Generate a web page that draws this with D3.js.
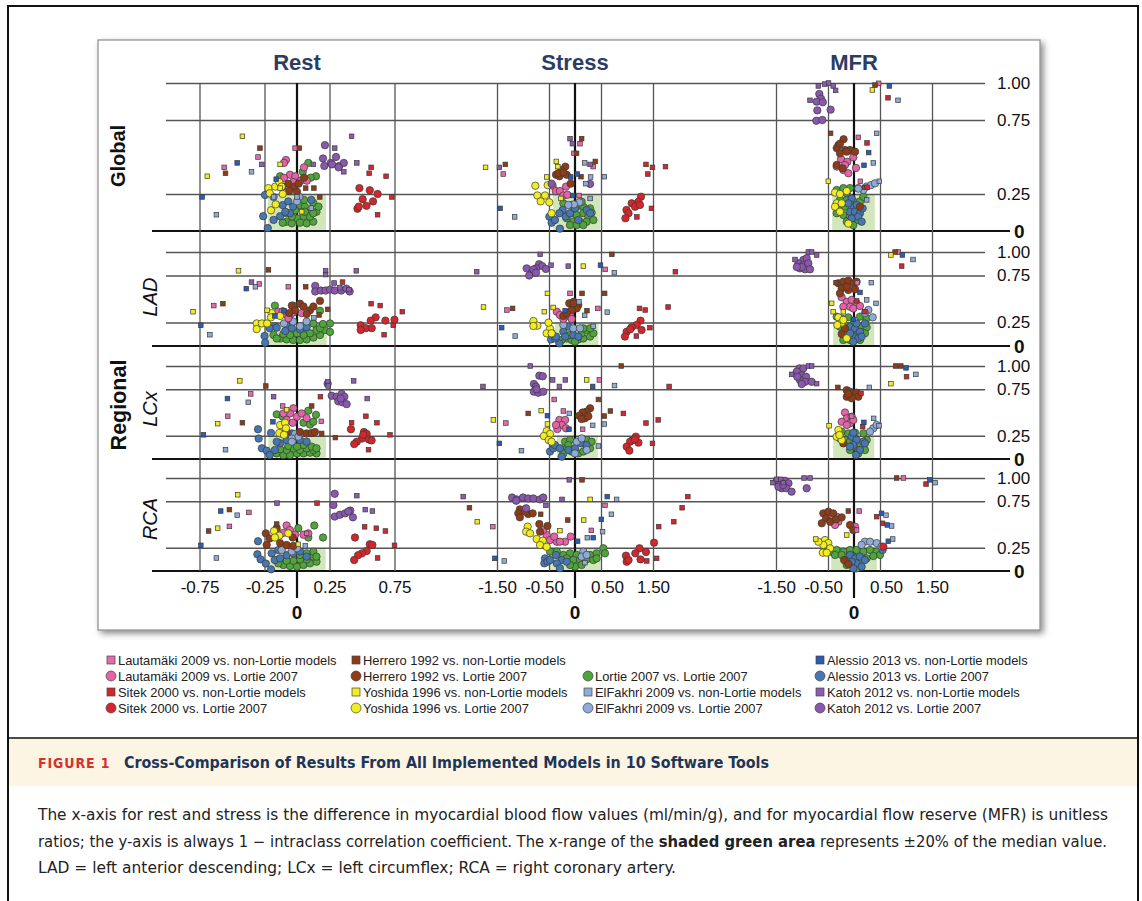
<!DOCTYPE html>
<html>
<head>
<meta charset="utf-8">
<script src="https://cdn.jsdelivr.net/npm/d3@7"></script>
<style>
  body { margin: 0; background: #fff; }
  svg { display: block; }
</style>
</head>
<body>
<div id="chart"></div>
<script>
// values: [x difference, 1 - ICC] per series code
// codes: L=Lautamaki H=Herrero O=Lortie A=Alessio S=Sitek Y=Yoshida E=ElFakhri K=Katoh ; s=square (vs non-Lortie), c=circle (vs Lortie 2007)

const restGlobal = [
  ["Ys", [[-0.42,0.64],[-0.69,0.37],[-0.13,0.45],[-0.13,0.29],[0.036,0.13]]],
  ["Hs", [[-0.285,0.56],[-0.55,0.39],[0.018,0.56],[0.067,0.29],[0.13,0.29],[0.175,0.23]]],
  ["Ls", [[-0.30,0.50],[-0.56,0.43],[-0.015,0.56]]],
  ["As", [[-0.46,0.46],[-0.73,0.23],[-0.16,0.35]]],
  ["Es", [[-0.35,0.40],[-0.62,0.11],[-0.18,0.23],[0,0.23],[0.11,0.155]]],
  ["Ks", [[-0.27,0.45],[0.29,0.56],[0.42,0.64],[0.125,0.45],[0.36,0.40],[0.46,0.46]]],
  ["Ss", [[0.57,0.43],[0.555,0.39],[0.685,0.37],[0.73,0.23],[0.62,0.11]]],
  ["Kc", [[0.215,0.58],[0.2,0.49],[0.30,0.50],[0.21,0.44],[0.26,0.46],[0.325,0.44],[0.36,0.46],[0.27,0.45],[0.32,0.43]]],
  ["Sc", [[0.48,0.29],[0.56,0.275],[0.62,0.25],[0.505,0.215],[0.585,0.20],[0.535,0.17],[0.465,0.15],[0.475,0.165]]],
  ["Lc", [[-0.085,0.48],[-0.1,0.46],[0.054,0.43],[-0.054,0.38],[-0.1,0.36],[-0.013,0.37],[-0.028,0.33],[0.028,0.34],[0.075,0.34]]],
  ["Hc", [[-0.067,0.32],[-0.02,0.30],[0.013,0.32],[-0.06,0.27],[-0.11,0.30],[0,0.265],[0.054,0.36]]],
  ["Yc", [[-0.22,0.29],[-0.21,0.255],[-0.167,0.30],[-0.136,0.33],[-0.118,0.30],[-0.2,0.14],[-0.164,0.18],[-0.11,0.25]]],
  ["Ac", [[-0.246,0.243],[-0.26,0.10],[-0.225,0.02],[-0.18,0.075],[-0.11,0.175],[-0.067,0.2],[-0.13,0.1],[-0.03,0.165],[-0.054,0.12],[0.11,0.21],[-0.09,0.13]]],
  ["Ec", [[0.018,0.23],[-0.18,0.23],[0,0.2]]],
  ["Oc", [[0.023,0.175],[0.06,0.165],[0.125,0.19],[0.15,0.13],[0.087,0.12],[0.05,0.10],[0,0.085],[-0.08,0.063],[-0.04,0.052],[0.023,0.056],[0.075,0.052],[0.125,0.063],[-0.11,0.056],[0.1,0.097],[-0.04,0.097],[0.165,0.165],[0.054,0.21],[-0.028,0.30],[-0.13,0.37],[0.087,0.46],[0.146,0.37],[0.105,0.36],[0.044,0.40],[0.125,0.12],[-0.08,0.12],[0.06,0.13],[-0.015,0.14]]]
];

const restLAD = [
  ["Ys", [[-0.45,0.80],[-0.80,0.365],[-0.23,0.38]]],
  ["Hs", [[-0.22,0.81],[0.067,0.63],[-0.57,0.45],[0.236,0.39],[0.17,0.33]]],
  ["Ks", [[0.22,0.80],[0.22,0.76],[0.456,0.80],[-0.35,0.68],[0.285,0.67],[0.33,0.62],[0.40,0.60]]],
  ["Ls", [[-0.29,0.66],[-0.067,0.63],[-0.64,0.43]]],
  ["As", [[-0.39,0.61],[-0.74,0.22],[-0.10,0.375],[-0.17,0.32]]],
  ["Es", [[-0.32,0.63],[-0.67,0.12],[0.13,0.30]]],
  ["Ss", [[0.35,0.68],[0.57,0.45],[0.64,0.43],[0.81,0.365],[0.74,0.22],[0.67,0.12]]],
  ["Kc", [[0.14,0.64],[0.14,0.58],[0.185,0.59],[0.22,0.59],[0.255,0.60],[0.29,0.59],[0.34,0.59],[0.38,0.61],[0.405,0.58]]],
  ["Sc", [[0.605,0.305],[0.567,0.27],[0.68,0.27],[0.75,0.28],[0.49,0.22],[0.53,0.19],[0.575,0.19],[0.49,0.17]]],
  ["Hc", [[-0.04,0.43],[0.023,0.45],[0.05,0.42],[-0.015,0.38],[0.10,0.38],[0.126,0.42],[0.177,0.48],[-0.06,0.35],[0.075,0.34]]],
  ["Lc", [[-0.145,0.365],[-0.09,0.34],[-0.054,0.33],[-0.03,0.355],[0.036,0.35],[-0.067,0.295],[-0.11,0.37]]],
  ["Yc", [[-0.31,0.24],[-0.27,0.24],[-0.23,0.24],[-0.31,0.18],[-0.195,0.35],[-0.13,0.32],[-0.2,0.305]]],
  ["Ac", [[-0.25,0.106],[-0.245,0.035],[-0.17,0.21],[-0.21,0.19],[-0.156,0.195],[-0.08,0.22],[-0.04,0.19],[0.023,0.177],[0.074,0.2],[-0.09,0.16]]],
  ["Ec", [[-0.1,0.24],[-0.03,0.26],[0.074,0.26],[0.023,0.21]]],
  ["Oc", [[-0.18,0.117],[-0.13,0.08],[-0.08,0.07],[-0.03,0.064],[0.023,0.064],[0.074,0.07],[0.126,0.09],[0.177,0.117],[0.215,0.17],[0.254,0.24],[0.254,0.15],[0.15,0.17],[0.10,0.135],[0.05,0.117],[0,0.135],[-0.054,0.117],[-0.105,0.128],[-0.156,0.08],[0.177,0.19],[0.05,0.19],[0.126,0.24],[0.2,0.234],[-0.17,0.43],[0.177,0.375],[-0.03,0.43]]]
];

const restLCx = [
  ["Ys", [[-0.44,0.84],[-0.08,0.53],[-0.61,0.38]]],
  ["Hs", [[-0.24,0.785],[-0.42,0.39],[0.295,0.23],[0.113,0.57],[0.19,0.275]]],
  ["Ks", [[0.236,0.83],[0.24,0.785],[0.436,0.84],[-0.18,0.67],[0.54,0.65]]],
  ["Ss", [[0.18,0.67],[0.53,0.46],[0.42,0.39],[0.615,0.39],[0.715,0.26],[0.55,0.10]]],
  ["Ls", [[-0.356,0.70],[-0.533,0.46],[0.187,0.405],[-0.11,0.57]]],
  ["As", [[-0.535,0.65],[-0.72,0.26],[-0.185,0.40]]],
  ["Es", [[-0.375,0.61],[-0.55,0.10]]],
  ["Kc", [[0.267,0.68],[0.236,0.81],[0.305,0.67],[0.343,0.70],[0.364,0.67],[0.318,0.62],[0.349,0.61],[0.382,0.59],[0.336,0.65]]],
  ["Sc", [[0.415,0.32],[0.515,0.29],[0.536,0.27],[0.5,0.22],[0.46,0.186],[0.44,0.16],[0.553,0.21],[0.574,0.20],[0.51,0.26]]],
  ["Lc", [[-0.028,0.545],[-0.054,0.49],[0,0.455],[0.036,0.49],[-0.105,0.49],[-0.08,0.42],[-0.033,0.39],[0.074,0.44]]],
  ["Hc", [[0.023,0.29],[0.074,0.275],[0.113,0.28],[0.138,0.29],[-0.08,0.29],[-0.13,0.275]]],
  ["Yc", [[-0.13,0.365],[-0.092,0.39],[-0.085,0.33],[-0.136,0.28],[-0.1,0.26]]],
  ["Ac", [[-0.30,0.32],[-0.295,0.22],[-0.27,0.115],[-0.233,0.09],[-0.21,0.043],[-0.2,0.28],[-0.17,0.097],[-0.13,0.17],[-0.08,0.204],[-0.04,0.276],[0.023,0.204],[0.074,0.186],[-0.156,0.186]]],
  ["Ec", [[-0.015,0.27],[0.01,0.24],[-0.04,0.22],[-0.04,0.186]]],
  ["Oc", [[-0.156,0.48],[-0.11,0.455],[0.087,0.52],[0.146,0.475],[0.05,0.39],[0.1,0.37],[0.126,0.40],[-0.156,0.06],[-0.105,0.043],[-0.054,0.043],[0,0.06],[0.05,0.06],[0.1,0.068],[0.15,0.06],[0.023,0.097],[-0.028,0.115],[0.074,0.115],[-0.08,0.097],[0.126,0.097],[0.05,0.15],[0,0.133],[-0.067,0.14],[-0.13,0.104],[0.113,0.133],[0.15,0.115]]]
];

const restRCA = [
  ["Ys", [[-0.456,0.82],[-0.61,0.46],[0.01,0.287]]],
  ["Ks", [[-0.154,0.73],[0.46,0.81],[0.525,0.66],[0.58,0.645]]],
  ["Ss", [[0.154,0.73],[0.52,0.475],[0.61,0.46],[0.68,0.43],[0.75,0.276],[0.62,0.14]]],
  ["As", [[-0.587,0.645],[-0.74,0.276]]],
  ["Hs", [[-0.52,0.66],[-0.68,0.43],[-0.156,0.505]]],
  ["Es", [[-0.46,0.60],[-0.62,0.14],[0.064,0.27]]],
  ["Ls", [[-0.37,0.63],[-0.52,0.48],[0.074,0.405]]],
  ["Kc", [[0.29,0.83],[0.28,0.71],[0.29,0.585],[0.33,0.605],[0.37,0.62],[0.41,0.65],[0.43,0.577],[0.395,0.64]]],
  ["Sc", [[0.446,0.36],[0.56,0.287],[0.536,0.215],[0.5,0.19],[0.47,0.17],[0.44,0.118],[0.58,0.28]]],
  ["Lc", [[-0.08,0.49],[-0.054,0.44],[-0.015,0.39],[-0.105,0.41],[0.05,0.39],[0.087,0.405]]],
  ["Yc", [[-0.177,0.43],[-0.136,0.38],[-0.067,0.405],[-0.17,0.36]]],
  ["Hc", [[-0.24,0.405],[-0.21,0.35],[-0.144,0.38],[-0.13,0.30],[-0.08,0.28],[-0.028,0.27],[-0.233,0.28],[-0.033,0.36],[-0.156,0.46]]],
  ["Ac", [[-0.3,0.32],[-0.305,0.18],[-0.28,0.125],[-0.24,0.08],[-0.2,0.018],[-0.195,0.19],[-0.144,0.225],[-0.08,0.17],[-0.028,0.19],[0.023,0.21],[-0.17,0.118],[-0.13,0.136],[0.074,0.154]]],
  ["Ec", [[-0.118,0.225],[-0.04,0.21],[0,0.245]]],
  ["Oc", [[0.133,0.49],[0.01,0.46],[0.2,0.36],[0.087,0.36],[-0.105,0.065],[-0.054,0.054],[0,0.047],[0.05,0.065],[0.1,0.082],[0.15,0.1],[0.126,0.154],[0.074,0.125],[0.023,0.125],[-0.028,0.11],[-0.08,0.11],[0.126,0.208],[0.15,0.154],[-0.144,0.082],[0.074,0.19],[0.023,0.172]]]
];

const stressGlobal = [
  ["Ks", [[-0.096,0.624],[-0.05,0.59],[-1.455,0.43],[0.29,0.45]]],
  ["Hs", [[0.128,0.624],[0.03,0.525],[-1.34,0.45],[0.39,0.47],[0.115,0.367]]],
  ["Ls", [[0.096,0.59],[-0.02,0.525],[-1.38,0.385],[0.35,0.435],[0.077,0.24]]],
  ["Ys", [[-1.72,0.43],[-0.36,0.47],[-0.33,0.435],[-0.545,0.365],[-0.27,0.22]]],
  ["As", [[-1.44,0.153],[-0.083,0.365],[0.045,0.385],[-0.045,0.24]]],
  ["Es", [[-1.16,0.095],[0.186,0.46],[0.30,0.365],[0.564,0.367],[0.21,0.32],[0.29,0.22]]],
  ["Ss", [[1.365,0.45],[1.49,0.43],[1.74,0.435],[1.40,0.385],[1.47,0.153],[1.19,0.095]]],
  ["Hc", [[-0.186,0.435],[-0.263,0.41],[-0.365,0.38],[-0.3,0.37],[-0.16,0.38],[-0.083,0.32],[-0.32,0.39],[-0.224,0.395]]],
  ["Kc", [[0.29,0.318],[-0.45,0.32]]],
  ["Lc", [[-0.43,0.306],[-0.37,0.27],[-0.29,0.27],[-0.173,0.30],[-0.224,0.24],[-0.147,0.245]]],
  ["Yc", [[-0.763,0.306],[-0.526,0.31],[-0.724,0.24],[-0.577,0.24],[-0.66,0.2],[-0.494,0.194],[-0.45,0.12]]],
  ["Sc", [[1.27,0.232],[1.22,0.198],[1.09,0.187],[1.155,0.164],[0.99,0.142],[1.03,0.12],[0.97,0.086],[1.25,0.176]]],
  ["Ac", [[-0.494,0.097],[-0.45,0.056],[-0.29,0.016],[-0.385,0.074],[-0.237,0.142],[-0.18,0.097],[-0.096,0.12],[-0.3,0.12],[0.064,0.074],[0.224,0.142],[0.29,0.12],[0,0.153]]],
  ["Ec", [[0.083,0.194],[-0.02,0.18],[-0.128,0.176]]],
  ["Oc", [[-0.064,0.176],[0.032,0.164],[0.16,0.164],[0.29,0.153],[-0.064,0.12],[0.032,0.108],[0.16,0.12],[0.256,0.097],[-0.16,0.086],[-0.032,0.063],[0.096,0.063],[0.224,0.063],[0.353,0.074],[-0.096,0.04],[0.032,0.04],[0.16,0.04],[0.32,0.124],[0.128,0.198],[-0.224,0.187]]]
];

const stressLAD = [
  ["Ks", [[-0.67,0.975],[-1.89,0.79],[-0.46,0.86],[-0.13,0.85]]],
  ["Hs", [[0.71,0.975],[0.135,0.56],[0.57,0.56],[-1.2,0.40],[0.23,0.376]]],
  ["Ss", [[1.93,0.79],[1.24,0.40],[1.35,0.383],[1.79,0.415],[1.44,0.195],[1.18,0.106]]],
  ["Ys", [[0.16,0.85],[-0.53,0.56],[-1.76,0.415],[-0.59,0.365],[-0.42,0.41]]],
  ["As", [[0.49,0.86],[-1.41,0.195],[-0.19,0.376]]],
  ["Ls", [[0.58,0.815],[-0.096,0.56],[-1.31,0.383],[0.44,0.40]]],
  ["Es", [[0.756,0.78],[-1.15,0.106],[0.62,0.36],[0.186,0.326],[0.077,0.47],[0.35,0.21]]],
  ["Kc", [[-0.93,0.826],[-0.83,0.78],[-0.69,0.87],[-0.63,0.85],[-0.56,0.82],[-0.75,0.826],[-0.88,0.75],[-0.8,0.815],[-0.75,0.78]]],
  ["Hc", [[-0.11,0.454],[-0.026,0.47],[0.064,0.436],[0.032,0.40],[-0.064,0.383],[-0.224,0.32],[-0.16,0.35],[-0.032,0.454]]],
  ["Lc", [[-0.35,0.365],[-0.29,0.33],[-0.19,0.31],[-0.096,0.33],[-0.064,0.287],[-0.224,0.287]]],
  ["Yc", [[-0.8,0.266],[-0.724,0.216],[-0.8,0.213],[-0.48,0.184],[-0.51,0.248],[-0.545,0.135],[-0.45,0.135]]],
  ["Sc", [[1.26,0.27],[1.186,0.223],[1.09,0.2],[1.28,0.17],[0.994,0.152],[0.96,0.1],[1.06,0.177]]],
  ["Ac", [[-0.45,0.135],[-0.46,0.07],[-0.3,0.028],[-0.38,0.08],[-0.365,0.1],[-0.224,0.152],[-0.128,0.206],[-0.032,0.117],[0.064,0.1],[-0.19,0.1]]],
  ["Ec", [[-0.032,0.188],[0.096,0.188],[-0.224,0.223]]],
  ["Oc", [[-0.16,0.08],[-0.064,0.064],[0.064,0.07],[0.16,0.08],[0.29,0.1],[0.353,0.135],[0.128,0.135],[0.224,0.17],[0,0.046],[-0.096,0.117],[0.29,0.188],[0.16,0.188],[-0.256,0.064]]]
];

const stressLCx = [
  ["Ks", [[-0.86,1.0],[-1.77,0.78],[-0.43,0.85],[-0.186,0.85],[-0.3,0.78]]],
  ["Hs", [[0.89,1.0],[0.45,0.64],[-0.9,0.49],[0.68,0.516],[0.564,0.462]]],
  ["Ss", [[1.81,0.78],[0.93,0.49],[1.365,0.387],[1.6,0.42],[1.49,0.168]]],
  ["Ys", [[0.224,0.85],[-0.65,0.52],[-1.57,0.42],[-0.53,0.376]]],
  ["Ls", [[0.468,0.85],[-0.40,0.64],[-1.33,0.387],[-0.224,0.516],[0.147,0.32]]],
  ["As", [[0.34,0.78],[-0.53,0.466],[-1.455,0.168],[-0.115,0.32]]],
  ["Es", [[0.76,0.79],[-1.03,0.09],[0.45,0.14],[0.564,0.376],[0.34,0.362],[-0.11,0.49]]],
  ["Kc", [[-0.686,0.896],[-0.62,0.89],[-0.79,0.806],[-0.75,0.778],[-0.79,0.724],[-0.705,0.713],[-0.61,0.724],[-0.74,0.75]]],
  ["Hc", [[0.29,0.545],[0.224,0.51],[0.147,0.5],[0.083,0.466],[0.19,0.437],[0.128,0.43],[0.256,0.46]]],
  ["Lc", [[-0.3,0.42],[-0.19,0.42],[-0.256,0.366],[-0.173,0.33],[-0.34,0.323],[-0.365,0.366]]],
  ["Yc", [[-0.545,0.3],[-0.48,0.27],[-0.6,0.247],[-0.506,0.204],[-0.45,0.186]]],
  ["Sc", [[1.17,0.24],[1.11,0.204],[1.06,0.186],[1.22,0.176],[0.994,0.133],[1.045,0.09],[1.15,0.21]]],
  ["Ac", [[-0.48,0.08],[-0.417,0.115],[-0.256,0.025],[-0.385,0.15],[-0.29,0.115],[-0.128,0.097],[0,0.115],[0.128,0.168],[0.224,0.15]]],
  ["Ec", [[0.032,0.186],[0.128,0.222],[0,0.06],[0.224,0.097]]],
  ["Oc", [[-0.19,0.186],[-0.096,0.204],[0.096,0.186],[0.224,0.204],[-0.16,0.115],[-0.064,0.08],[0.064,0.06],[0.16,0.08],[0.29,0.115],[-0.224,0.06],[0.32,0.186],[-0.128,0.15]]]
];

const stressRCA = [
  ["Ks", [[-0.11,0.98],[-2.15,0.8],[-0.56,0.706],[-0.25,0.77]]],
  ["Hs", [[0.135,0.98],[-2.03,0.68],[-0.66,0.61],[-0.14,0.548]]],
  ["Ss", [[2.17,0.8],[2.06,0.68],[1.9,0.53],[1.61,0.477],[1.57,0.136],[1.38,0.108]]],
  ["Ys", [[-1.88,0.53],[0.29,0.77],[0.167,0.548],[-0.29,0.434]]],
  ["Ls", [[-1.58,0.477],[0.577,0.706],[0.314,0.437]]],
  ["As", [[-1.54,0.136],[0.62,0.8],[0.506,0.555],[0.35,0.358],[0.05,0.32]]],
  ["Es", [[-1.36,0.108],[0.8,0.77],[0.7,0.61],[0.53,0.423],[0.237,0.358],[0.19,0.09]]],
  ["Kc", [[-1.21,0.79],[-1.12,0.77],[-1.0,0.79],[-0.9,0.78],[-0.8,0.78],[-0.673,0.77],[-0.61,0.79],[-0.94,0.674],[-1.13,0.756]]],
  ["Hc", [[-1.06,0.663],[-1.09,0.62],[-1.06,0.577],[-0.9,0.613],[-0.814,0.62],[-0.686,0.505],[-0.53,0.484],[-0.673,0.423],[-0.96,0.638]]],
  ["Yc", [[-0.91,0.477],[-0.94,0.423],[-0.865,0.405],[-0.737,0.344],[-0.62,0.326],[-0.673,0.28],[-0.545,0.26]]],
  ["Lc", [[-0.545,0.387],[-0.48,0.333],[-0.35,0.315],[-0.19,0.315],[-0.083,0.37],[-0.61,0.44],[-0.4,0.37],[-0.29,0.315]]],
  ["Sc", [[1.52,0.305],[1.24,0.244],[1.365,0.204],[1.16,0.19],[1.26,0.125],[0.98,0.165],[0.994,0.1],[1.03,0.118]]],
  ["Ac", [[-0.577,0.136],[-0.59,0.082],[-0.53,0.1],[-0.48,0.118],[-0.365,0.172],[-0.256,0.118],[-0.16,0.1],[-0.35,0.082],[-0.29,0.03]]],
  ["Ec", [[0.16,0.208],[0.128,0.154],[0.224,0.172]]],
  ["Oc", [[-0.48,0.208],[-0.35,0.208],[-0.224,0.172],[-0.096,0.19],[0.032,0.172],[0.16,0.154],[0.29,0.172],[0.417,0.19],[0.545,0.244],[0.577,0.19],[-0.16,0.136],[-0.032,0.118],[0.096,0.118],[0.224,0.125],[0.353,0.118],[0.417,0.136],[0,0.047],[-0.096,0.065],[0.128,0.065]]]
];

const mfrGlobal = [
  ["Ks", [[-0.686,0.98],[-0.56,0.993],[-0.4,0.98],[-0.353,0.95],[-0.846,0.883],[-0.49,1.0]]],
  ["Ys", [[0.353,0.953],[-0.494,0.336]]],
  ["Hs", [[0.404,0.986],[-0.45,0.66]]],
  ["Ls", [[0.474,0.998],[0.083,0.633],[0.122,0.336]]],
  ["As", [[0.68,0.98],[0.282,0.53],[0.192,0.444]]],
  ["Ss", [[0.654,0.9],[0.25,0.595],[0.21,0.295],[0.25,0.295]]],
  ["Es", [[0.846,0.883],[0.436,0.66],[0.372,0.46],[0.487,0.336],[0.244,0.21]]],
  ["Kc", [[-0.667,0.926],[-0.635,0.894],[-0.718,0.874],[-0.6,0.87],[-0.705,0.815],[-0.724,0.745],[-0.61,0.75],[-0.45,0.82]]],
  ["Hc", [[-0.2,0.62],[-0.3,0.58],[-0.333,0.56],[-0.27,0.59],[-0.173,0.547],[-0.077,0.547],[0.02,0.536],[-0.27,0.525],[-0.333,0.446],[-0.218,0.423],[-0.14,0.536],[0.115,0.164]]],
  ["Lc", [[-0.25,0.486],[-0.128,0.468],[-0.013,0.498],[-0.333,0.435],[-0.205,0.412],[-0.109,0.39],[0.038,0.426],[-0.173,0.446]]],
  ["Yc", [[-0.365,0.26],[-0.27,0.25],[-0.14,0.27],[-0.333,0.187],[-0.237,0.187],[-0.365,0.164],[-0.109,0.05],[-0.27,0.13]]],
  ["Ec", [[0.244,0.3],[0.327,0.31],[0.404,0.322],[0.18,0.277],[0.083,0.286]]],
  ["Oc", [[-0.333,0.277],[-0.205,0.29],[-0.077,0.29],[0.083,0.29],[-0.27,0.21],[-0.14,0.21],[-0.27,0.164],[-0.013,0.2],[0.115,0.2],[-0.333,0.12],[-0.205,0.108],[-0.077,0.097],[0.05,0.12],[-0.14,0.063],[-0.013,0.04],[0.083,0.074],[-0.173,0.164],[0.18,0.232]]],
  ["Ac", [[-0.14,0.255],[-0.045,0.22],[-0.013,0.164],[-0.077,0.13],[0.02,0.13],[0.115,0.12],[-0.045,0.085],[0.083,0.097],[-0.109,0.187],[0.147,0.063],[0.05,0.176],[0.167,0.153]]]
];

const mfrLAD = [
  ["Ks", [[-0.878,1.0],[-0.814,1.0],[-0.718,0.968],[-1.135,0.92]]],
  ["Ys", [[0.71,0.968],[-0.43,0.454],[-0.4,0.365],[-0.205,0.365]]],
  ["Hs", [[0.79,1.0],[-0.346,0.674]]],
  ["Ls", [[0.853,1.0],[0.064,0.674]]],
  ["As", [[0.93,0.968],[0.115,0.57],[-0.013,0.284]]],
  ["Es", [[1.135,0.92],[0.333,0.674],[0.244,0.49],[0.423,0.454]]],
  ["Ss", [[0.917,0.85],[0.05,0.48],[0.21,0.365]]],
  ["Kc", [[-0.974,0.915],[-0.91,0.933],[-1.07,0.88],[-0.974,0.86],[-0.878,0.88],[-1.04,0.826],[-0.94,0.816],[-0.846,0.816],[-1.006,0.84],[-1.1,0.84]]],
  ["Hc", [[-0.3,0.667],[-0.205,0.684],[-0.109,0.695],[-0.013,0.667],[0.05,0.684],[-0.237,0.613],[-0.109,0.596],[0.02,0.603],[-0.14,0.63],[-0.27,0.56],[-0.173,0.188],[-0.237,0.128]]],
  ["Lc", [[-0.237,0.518],[-0.14,0.47],[-0.045,0.49],[0.05,0.454],[-0.077,0.418],[-0.205,0.418],[-0.013,0.4],[0.115,0.425]]],
  ["Ec", [[0.276,0.383],[0.36,0.305],[0.21,0.35]]],
  ["Yc", [[-0.3,0.305],[-0.237,0.248],[-0.14,0.082],[-0.32,0.223],[-0.205,0.277]]],
  ["Oc", [[-0.333,0.312],[-0.237,0.294],[-0.109,0.305],[0.115,0.312],[0.244,0.294],[-0.27,0.206],[-0.14,0.213],[-0.013,0.234],[0.115,0.206],[0.244,0.199],[-0.14,0.135],[0.05,0.117],[0.21,0.135],[-0.077,0.064],[0.115,0.064],[-0.205,0.064]]],
  ["Ac", [[-0.077,0.206],[0.02,0.188],[0.115,0.152],[-0.013,0.1],[0.083,0.082],[0.21,0.24],[-0.077,0.135],[0.147,0.1],[0.05,0.24],[-0.013,0.046]]]
];

const mfrLCx = [
  ["Ks", [[-0.878,1.0],[-0.814,1.0],[-1.2,0.91],[-0.718,0.81]]],
  ["Hs", [[0.8,1.0],[0.9,1.0],[-0.31,0.77]]],
  ["As", [[1.0,0.98],[0.19,0.394]]],
  ["Es", [[1.19,0.91],[0.295,0.77],[0.378,0.437],[0.48,0.358]]],
  ["Ss", [[1.01,0.885],[0.135,0.706],[0.167,0.348]]],
  ["Ys", [[0.71,0.81],[-0.48,0.358]]],
  ["Ls", [[-0.045,0.46]]],
  ["Kc", [[-1.05,0.975],[-0.974,0.975],[-1.1,0.94],[-1.006,0.9],[-0.923,0.885],[-1.04,0.85],[-0.94,0.83],[-0.814,0.83],[-1.006,0.806],[-1.09,0.885]]],
  ["Hc", [[-0.14,0.74],[-0.077,0.724],[-0.013,0.706],[0.05,0.713],[0.083,0.67],[-0.14,0.67],[-0.045,0.652],[-0.109,0.7],[-0.27,0.222],[-0.205,0.168]]],
  ["Lc", [[-0.173,0.5],[-0.14,0.437],[-0.045,0.455],[-0.237,0.4],[-0.077,0.383],[-0.013,0.42],[-0.14,0.366]]],
  ["Ec", [[0.372,0.33],[0.436,0.366],[0.308,0.294]]],
  ["Yc", [[-0.3,0.312],[-0.333,0.24],[-0.237,0.204],[-0.28,0.258]]],
  ["Oc", [[-0.237,0.294],[-0.109,0.276],[0.02,0.283],[0.18,0.276],[-0.173,0.204],[-0.077,0.186],[0.115,0.168],[0.244,0.204],[-0.013,0.133],[0.083,0.06],[-0.077,0.097],[0.21,0.097]]],
  ["Ac", [[-0.045,0.24],[0.05,0.204],[0.18,0.186],[-0.013,0.15],[0.115,0.097],[0.038,0.043],[0.21,0.168],[-0.077,0.133],[-0.013,0.283]]]
];

const mfrRCA = [
  ["Ks", [[-1.56,0.95],[-1.49,0.986],[-1.41,0.986],[-1.36,0.95],[-0.96,1.0],[-0.846,1.0]]],
  ["Hs", [[0.82,1.0],[-0.109,0.645]]],
  ["Ls", [[0.95,1.0],[0.1,0.645],[0.05,0.44]]],
  ["Ss", [[1.385,0.935],[0.436,0.584],[0.55,0.513]]],
  ["As", [[1.46,0.98],[0.53,0.62],[0.64,0.495],[0.66,0.32]]],
  ["Es", [[1.56,0.95],[0.615,0.6],[0.724,0.484],[0.744,0.344]]],
  ["Ys", [[-0.14,0.387],[-0.737,0.344]]],
  ["Kc", [[-1.49,0.96],[-1.42,0.943],[-1.33,0.97],[-1.26,0.943],[-1.39,0.89],[-1.3,0.89],[-1.2,0.853],[-0.91,0.89],[-1.455,0.907],[-1.36,0.925]]],
  ["Hc", [[-0.59,0.62],[-0.494,0.638],[-0.4,0.62],[-0.538,0.566],[-0.62,0.513],[-0.46,0.53],[-0.346,0.555],[-0.237,0.577],[-0.077,0.495],[-0.013,0.44],[-0.19,0.118],[-0.109,0.075]]],
  ["Lc", [[-0.43,0.602],[-0.333,0.584],[-0.3,0.53],[-0.365,0.495],[0.02,0.477]]],
  ["Yc", [[-0.557,0.333],[-0.494,0.3],[-0.59,0.28],[-0.46,0.244],[-0.6,0.197],[-0.525,0.197],[-0.686,0.315]]],
  ["Ec", [[0.21,0.315],[0.308,0.315],[0.147,0.28],[0.436,0.3],[0.53,0.262]]],
  ["Sc", [[0.564,0.262]]],
  ["Oc", [[-0.46,0.208],[-0.333,0.226],[-0.205,0.208],[-0.077,0.226],[0.05,0.226],[0.18,0.208],[0.308,0.226],[0.436,0.208],[0.5,0.172],[-0.365,0.172],[-0.237,0.172],[-0.013,0.154],[-0.14,0.118],[0.115,0.118],[0.244,0.136],[0.372,0.161],[-0.14,0.064],[0.05,0.028]]],
  ["Ac", [[0.55,0.226],[-0.077,0.172],[0.02,0.136],[0.115,0.154],[0.05,0.082],[0.147,0.046],[0.21,0.118],[-0.045,0.1],[-0.013,0.028]]]
];

// shaded ±20% of median range, same panel order (row by row)
const greenBands = [
  [-0.223,0.223],[-0.42,0.48],[-0.42,0.40],
  [-0.246,0.228],[-0.385,0.45],[-0.40,0.39],
  [-0.22,0.223],[-0.35,0.436],[-0.40,0.39],
  [-0.21,0.22],[-0.48,0.49],[-0.44,0.44]
];
const bandTop = 0.25;

const columns = ["Rest", "Stress", "MFR"];
const restTicks = [-0.75, -0.25, 0.25, 0.75];
const flowTicks = [-1.5, -0.5, 0.5, 1.5];
const yTicks = [1, 0.75, 0.25];

const seriesCodes = ["Oc","Ac","Ec","Lc","Hc","Yc","Sc","Kc","Ls","Hs","Ys","Ss","As","Es","Ks"];
const seriesNames = [
  "Lortie 2007 vs. Lortie 2007", "Alessio 2013 vs. Lortie 2007", "ElFakhri 2009 vs. Lortie 2007",
  "Lautamäki 2009 vs. Lortie 2007", "Herrero 1992 vs. Lortie 2007", "Yoshida 1996 vs. Lortie 2007",
  "Sitek 2000 vs. Lortie 2007", "Katoh 2012 vs. Lortie 2007",
  "Lautamäki 2009 vs. non-Lortie models", "Herrero 1992 vs. non-Lortie models", "Yoshida 1996 vs. non-Lortie models",
  "Sitek 2000 vs. non-Lortie models", "Alessio 2013 vs. non-Lortie models", "ElFakhri 2009 vs. non-Lortie models",
  "Katoh 2012 vs. non-Lortie models"
];
const seriesColors = [
  "#4fa53a", "#4677b2", "#8fabd6", "#e363a6", "#8e3c17", "#f2ee1e", "#d4262b", "#8a57ae",
  "#e36aab", "#8e3c17", "#f2ee1e", "#d4262b", "#2c5bb6", "#8fabd6", "#8a5db0"
];
// legend grid, row by row (null = empty cell)
const legendSlots = ["Ls","Hs",null,"As", "Lc","Hc","Oc","Ac", "Ss","Ys","Es","Ks", "Sc","Yc","Ec","Kc"];

const panelData = [restGlobal, stressGlobal, mfrGlobal, restLAD, stressLAD, mfrLAD,
                   restLCx, stressLCx, mfrLCx, restRCA, stressRCA, mfrRCA];

// ---------------------------------------------------------------------------
const W = 1142, H = 901;
const FONT = "'Liberation Sans', Arial, Helvetica, sans-serif";
const NARROW = "'DejaVu Sans Condensed', 'Liberation Sans Narrow', 'Open Sans', sans-serif";

const svg = d3.select("#chart").append("svg").attr("width", W).attr("height", H)
  .style("font-family", FONT);

svg.append("defs").append("filter")
  .attr("id", "shadow").attr("x", "-5%").attr("y", "-5%").attr("width", "112%").attr("height", "115%")
  .append("feDropShadow")
  .attr("dx", 3).attr("dy", 3).attr("stdDeviation", 3)
  .attr("flood-color", "#000").attr("flood-opacity", 0.45);

// outer figure frame
svg.append("path")
  .attr("d", `M8,${H} V6 H1138 V${H}`)
  .attr("fill", "none").attr("stroke", "#111").attr("stroke-width", 2);

// chart card
svg.append("rect")
  .attr("x", 98).attr("y", 40).attr("width", 942).attr("height", 590)
  .attr("fill", "#fff").attr("stroke", "#8a8a8a").attr("stroke-width", 1.2)
  .attr("filter", "url(#shadow)");

const xScales = [
  d3.scaleLinear().domain([-1, 1]).range([167, 427]),
  d3.scaleLinear().domain([-1.5, 1.5]).range([497, 653]),
  d3.scaleLinear().domain([-1.5, 1.5]).range([776, 932])
];
const yScales = [
  d3.scaleLinear().domain([0, 1]).range([231, 83]),
  d3.scaleLinear().domain([0, 1]).range([346, 252]),
  d3.scaleLinear().domain([0, 1]).range([459, 366]),
  d3.scaleLinear().domain([0, 1]).range([571, 478])
];
const gridLeft = 166, gridRight = 985, gridTop = 83, gridBottom = 571;
const fmt = d => d.toFixed(2);

// green bands
const bandLayer = svg.append("g");
greenBands.forEach((b, i) => {
  const x = xScales[i % 3], y = yScales[Math.floor(i / 3)];
  bandLayer.append("rect")
    .attr("x", x(b[0])).attr("width", x(b[1]) - x(b[0]))
    .attr("y", y(bandTop)).attr("height", y(0) - y(bandTop))
    .attr("fill", "#d1e6ba");
});

// horizontal grid + right labels
yScales.forEach(y => {
  const g = svg.append("g")
    .attr("transform", `translate(${gridRight},0)`)
    .call(d3.axisRight(y).tickValues(yTicks).tickSize(-(gridRight - gridLeft)).tickPadding(12).tickFormat(fmt));
  g.select(".domain").remove();
  g.selectAll("line").attr("stroke", "#555").attr("stroke-width", 1.3);
  g.selectAll("text").attr("font-size", 17).attr("fill", "#111").attr("font-family", FONT);

  svg.append("line")
    .attr("x1", 152).attr("x2", 1010).attr("y1", y(0)).attr("y2", y(0))
    .attr("stroke", "#111").attr("stroke-width", 2.2);
  svg.append("text")
    .attr("x", 1014).attr("y", y(0)).attr("dy", "0.36em")
    .attr("font-size", 19).attr("font-weight", "bold").attr("fill", "#111")
    .text("0");
});

// vertical grid + bottom labels
xScales.forEach((x, c) => {
  const ticks = c === 0 ? restTicks : flowTicks;
  const g = svg.append("g")
    .attr("transform", `translate(0,${gridBottom})`)
    .call(d3.axisBottom(x).tickValues(ticks).tickSize(-(gridBottom - gridTop)).tickPadding(10).tickFormat(fmt));
  g.select(".domain").remove();
  g.selectAll("line").attr("stroke", "#555").attr("stroke-width", 1.3);
  g.selectAll("text").attr("font-size", 17).attr("fill", "#111").attr("font-family", FONT)
    .attr("dx", d => (c > 0 && Math.abs(d) === 0.5) ? (d < 0 ? -5 : 6) : 0);

  svg.append("line")
    .attr("x1", x(0)).attr("x2", x(0)).attr("y1", gridTop).attr("y2", 598)
    .attr("stroke", "#111").attr("stroke-width", 2.2);
  svg.append("text")
    .attr("x", x(0)).attr("y", 619).attr("text-anchor", "middle")
    .attr("font-size", 19).attr("font-weight", "bold").attr("fill", "#111")
    .text("0");

  svg.append("text")
    .attr("x", x(0)).attr("y", 70).attr("text-anchor", "middle")
    .attr("font-size", 22).attr("font-weight", "bold").attr("fill", "#2c3d63")
    .text(columns[c]);
});

// points
const colorOf = code => seriesColors[seriesCodes.indexOf(code)];
panelData.forEach((pts, i) => {
  const x = xScales[i % 3], y = yScales[Math.floor(i / 3)];
  const g = svg.append("g");
  seriesCodes.forEach(code => {
    const entry = pts.find(p => p[0] === code);
    if (!entry) return;
    if (code.endsWith("c")) {
      g.selectAll(null).data(entry[1]).join("circle")
        .attr("cx", d => x(d[0])).attr("cy", d => y(d[1])).attr("r", 3.7)
        .attr("fill", colorOf(code)).attr("stroke", "#3a3a3a").attr("stroke-width", 0.7);
    } else {
      g.selectAll(null).data(entry[1]).join("rect")
        .attr("x", d => x(d[0]) - 2.3).attr("y", d => y(d[1]) - 2.3)
        .attr("width", 4.6).attr("height", 4.6)
        .attr("fill", colorOf(code)).attr("stroke", "#3a3a3a").attr("stroke-width", 0.7);
    }
  });
});

// row labels
const rowLabel = (txt, x, y, size, bold, italic) =>
  svg.append("text")
    .attr("transform", `translate(${x},${y}) rotate(-90)`)
    .attr("text-anchor", "middle").attr("dy", "0.35em")
    .attr("font-size", size)
    .attr("font-weight", bold ? "bold" : "normal")
    .attr("font-style", italic ? "italic" : "normal")
    .attr("fill", "#111").text(txt);
rowLabel("Global", 118, 156, 20, true, false);
rowLabel("Regional", 118, 405, 21.5, true, false);
rowLabel("LAD", 150, 297, 20, false, true);
rowLabel("LCx", 150, 409, 20, false, true);
rowLabel("RCA", 150, 519, 20, false, true);

// legend
const legendX = [111, 356, 588, 820];
const legendY = [660, 676, 692, 708];
legendSlots.forEach((code, k) => {
  if (!code) return;
  const cx = legendX[k % 4], cy = legendY[Math.floor(k / 4)];
  const col = colorOf(code);
  if (code.endsWith("c")) {
    svg.append("circle").attr("cx", cx).attr("cy", cy).attr("r", 5)
      .attr("fill", col).attr("stroke", "#444").attr("stroke-width", 0.7);
  } else {
    svg.append("rect").attr("x", cx - 4).attr("y", cy - 4).attr("width", 8).attr("height", 8)
      .attr("fill", col).attr("stroke", "#444").attr("stroke-width", 0.7);
  }
  svg.append("text")
    .attr("x", cx + 7).attr("y", cy).attr("dy", "0.36em")
    .attr("font-size", 12.9).attr("fill", "#222")
    .text(seriesNames[seriesCodes.indexOf(code)]);
});

// caption band
svg.append("rect").attr("x", 9).attr("y", 738).attr("width", 1128).attr("height", 48).attr("fill", "#fdf5e4");
svg.append("line").attr("x1", 8).attr("x2", 1138).attr("y1", 738).attr("y2", 738)
  .attr("stroke", "#111").attr("stroke-width", 1.5);

svg.append("text")
  .attr("x", 38).attr("y", 768)
  .attr("font-family", NARROW).attr("font-weight", "bold").attr("font-size", 14)
  .attr("letter-spacing", 0.9).attr("fill", "#d6312a")
  .text("FIGURE 1");
svg.append("text")
  .attr("x", 124).attr("y", 768)
  .attr("font-family", NARROW).attr("font-weight", "bold").attr("font-size", 15)
  .attr("fill", "#1f3558")
  .attr("textLength", 645).attr("lengthAdjust", "spacingAndGlyphs")
  .text("Cross-Comparison of Results From All Implemented Models in 10 Software Tools");

const body = [
  { y: 820, w: 1070, parts: [["The x-axis for rest and stress is the difference in myocardial blood flow values (ml/min/g), and for myocardial flow reserve (MFR) is unitless", false]] },
  { y: 847, w: 1069, parts: [["ratios; the y-axis is always 1 \u2212 intraclass correlation coefficient. The x-range of the ", false], ["shaded green area", true], [" represents \u00b120% of the median value.", false]] },
  { y: 873, w: 638, parts: [["LAD = left anterior descending; LCx = left circumflex; RCA = right coronary artery.", false]] }
];
body.forEach(line => {
  const t = svg.append("text")
    .attr("x", 38).attr("y", line.y)
    .attr("font-family", NARROW).attr("font-size", 15.5).attr("fill", "#222")
    .attr("textLength", line.w).attr("lengthAdjust", "spacingAndGlyphs");
  line.parts.forEach(p => t.append("tspan").attr("font-weight", p[1] ? "bold" : "normal").text(p[0]));
});
</script>
</body>
</html>
